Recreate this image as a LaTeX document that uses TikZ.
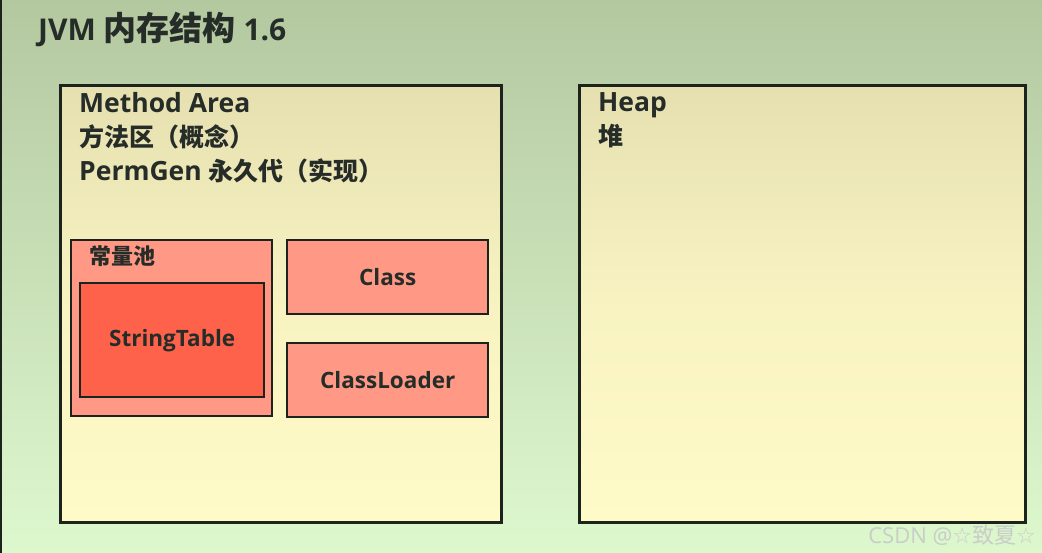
\documentclass[tikz,border=0pt]{standalone}
\usepackage{fontspec}
\setmainfont{Open Sans}
\newfontfamily\cjk{Noto Sans CJK SC}
\newfontfamily\symfont{DejaVu Sans}
\definecolor{bgtop}{RGB}{180,200,160}
\definecolor{bgbot}{RGB}{222,248,206}
\definecolor{areatop}{RGB}{230,224,176}
\definecolor{areabot}{RGB}{255,251,200}
\definecolor{pool}{RGB}{255,152,132}
\definecolor{strtab}{RGB}{255,98,74}
\definecolor{edge}{RGB}{28,34,28}
\definecolor{ink}{RGB}{38,44,40}
\definecolor{wm}{RGB}{200,205,200}
\newcommand{\zh}[1]{{\cjk\fontsize{25}{34}\selectfont #1}}
\tikzset{
  area/.style={draw=edge, line width=2.7pt, top color=areatop, bottom color=areabot, middle color=areabot!70!areatop},
  poolbox/.style={draw=edge, line width=2.4pt, fill=pool},
  strbox/.style={draw=edge, line width=2.4pt, fill=strtab},
  lbl/.style={anchor=north west, inner sep=0pt, text=ink, font=\bfseries\fontsize{26.5}{34}\selectfont, align=left},
  boxlbl/.style={text=ink, font=\bfseries\fontsize{22.5}{24}\selectfont},
}
\begin{document}
\begin{tikzpicture}[x=1pt,y=-1pt]
\useasboundingbox (0,0) rectangle (1042,553);
\shade[top color=bgtop, bottom color=bgbot] (0,0) rectangle (1042,553);
\draw[edge, line width=1.5pt] (0.75,0) -- (0.75,553);
\node[anchor=west, inner sep=0pt, text=ink, font=\bfseries\fontsize{30}{32}\selectfont] (title) at (38,29) {JVM {\cjk\fontsize{33}{33}\selectfont 内存结构} 1.6};
% Method area
\node[area, minimum width=441pt, minimum height=437pt, anchor=north west, inner sep=0pt] (ma) at (59,84) {};
\node[lbl] (malbl) at (79,92) {Method Area\\\zh{方法区（概念）}\\PermGen \zh{永久代（实现）}};
% Heap
\node[area, minimum width=446pt, minimum height=437pt, anchor=north west, inner sep=0pt] (heap) at (578,84) {};
\node[lbl] (heaplbl) at (598,92) {Heap\\\zh{堆}};
% constant pool
\node[poolbox, minimum width=201pt, minimum height=176pt, anchor=north west, inner sep=0pt] (pool) at (70,239) {};
\node[anchor=west, inner sep=0pt, text=ink, font=\cjk\bfseries\fontsize{22}{24}\selectfont] (poollbl) at (89,256) {常量池};
\node[strbox, minimum width=184pt, minimum height=114pt, anchor=north west, inner sep=0pt, boxlbl] (st) at (79,282) {StringTable};
\node[poolbox, minimum width=201pt, minimum height=74pt, anchor=north west, inner sep=0pt, boxlbl] (cls) at (286,239) {Class};
\node[poolbox, minimum width=201pt, minimum height=74pt, anchor=north west, inner sep=0pt, boxlbl] (cl) at (286,342) {ClassLoader};
% watermark
\node[anchor=east, inner sep=0pt, text=wm, font=\mdseries\fontsize{22}{24}\selectfont] (wmk) at (1036,535) {CSDN @{\symfont ☆}{\cjk 致夏}{\symfont ☆}};
\end{tikzpicture}
\end{document}
